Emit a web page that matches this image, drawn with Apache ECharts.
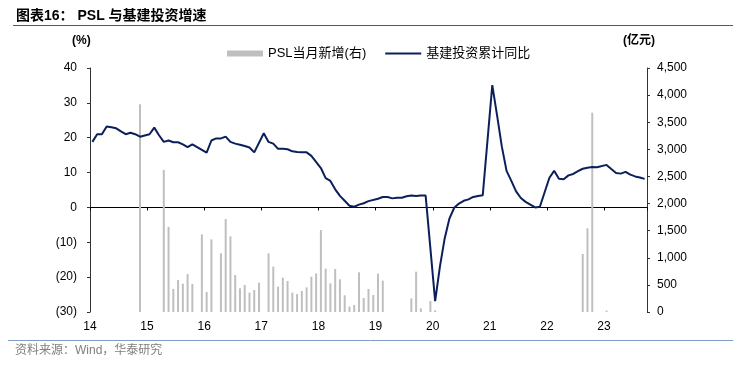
<!DOCTYPE html>
<html>
<head>
<meta charset="utf-8">
<script src="https://cdn.jsdelivr.net/npm/echarts/dist/echarts.min.js"></script>
<style>
html,body{margin:0;padding:0;background:#fff;}
#chart{width:739px;height:369px;}
</style>
</head>
<body>
<div id="chart"></div>
<script>
// ---- Data ----
// Monthly categories run from 2014-02 to 2023-10 (117 months)
const startYear = 2014;
const startMonth = 2;
const monthCount = 117;
const yearTickLabels = ['14','15','16','17','18','19','20','21','22','23'];

// 基建投资累计同比 (%), one value per month, null = month not published (January)
const infraYoY = [
  18.8, 21.0, 21.0, 23.2, 23.0, 22.7, 21.8, 21.0, 21.4, 21.0, 20.3,        // 2014-02..2014-12
  null, 21.0, 22.9, 20.7, 18.8, 19.2, 18.7, 18.7, 18.1, 17.3, 18.1, 17.3,  // 2015
  null, 15.7, 19.2, 19.8, 19.8, 20.3, 18.8, 18.3, 18.0, 17.6, 17.2, 15.8,  // 2016
  null, 21.3, 18.8, 18.3, 16.8, 16.8, 16.7, 16.1, 15.9, 15.8, 15.8, 14.8,  // 2017
  null, 11.3, 8.4, 7.6, 5.2, 3.3, 1.9, 0.5, 0.2, 0.8, 1.2, 1.8,            // 2018
  null, 2.5, 3.0, 3.0, 2.6, 2.8, 2.8, 3.2, 3.4, 3.3, 3.4, 3.4,             // 2019
  null, -26.9, -17.0, -8.9, -3.2, -0.1, 1.1, 1.9, 2.3, 3.0, 3.3, 3.5,     // 2020
  null, 35.1, 26.5, 17.5, 10.5, 7.6, 4.6, 2.7, 1.6, 0.8, 0.0, 0.2,        // 2021
  null, 8.5, 10.5, 8.2, 8.1, 9.2, 9.6, 10.4, 11.1, 11.4, 11.6, 11.5,      // 2022
  null, 12.2, 11.0, 9.9, 9.7, 10.2, 9.4, 8.9, 8.6, 8.2                    // 2023
];

// PSL当月新增 (亿元), months with a bar
const pslDates = [
  '2014-12',
  '2015-05','2015-06','2015-07','2015-08','2015-09','2015-10','2015-11',
  '2016-01','2016-02','2016-03','2016-05','2016-06','2016-07','2016-08','2016-09','2016-10','2016-11','2016-12',
  '2017-01','2017-03','2017-04','2017-05','2017-06','2017-07','2017-08','2017-09','2017-10','2017-11','2017-12',
  '2018-01','2018-02','2018-03','2018-04','2018-05','2018-06','2018-07','2018-08','2018-09','2018-10','2018-11','2018-12',
  '2019-01','2019-02','2019-03','2019-09','2019-10','2019-11',
  '2020-01','2020-02',
  '2022-09','2022-10','2022-11',
  '2023-02'
];
const pslValues = [
  3831,
  2620, 1570, 424, 590, 522, 700, 516,
  1432, 369, 1340, 1082, 1715, 1395, 682, 437, 498, 356, 406,
  541, 1082, 836, 467, 633, 572, 356, 332, 387, 455, 651,
  713, 1512, 799, 529, 793, 603, 308, 98, 129, 732, 258, 424,
  313, 707, 578, 252, 744, 68,
  203, 30,
  1070, 1543, 3676,
  25
];

// ---- Build categories / series arrays ----
const categories = [];
for (let k = 0; k < monthCount; k++) {
  const m0 = startMonth - 1 + k;
  const y = startYear + Math.floor(m0 / 12);
  const m = (m0 % 12) + 1;
  categories.push(y + '-' + String(m).padStart(2, '0'));
}
const pslSeries = categories.map(c => {
  const j = pslDates.indexOf(c);
  return j >= 0 ? pslValues[j] : null;
});

const LATIN = '"Liberation Sans", Arial, "Noto Sans CJK SC", sans-serif';
const chart = echarts.init(document.getElementById('chart'), null, {renderer: 'canvas'});

const option = {
  animation: false,
  backgroundColor: '#ffffff',
  textStyle: {fontFamily: LATIN},
  grid: {left: 90, right: 92, top: 68, bottom: 57, containLabel: false},
  legend: {
    left: 222,
    top: 42,
    itemWidth: 36,
    itemHeight: 6,
    itemGap: 19,
    textStyle: {fontFamily: LATIN, fontSize: 13, color: '#000'},
    data: [
      {name: 'PSL当月新增(右)', icon: 'rect'},
      {name: '基建投资累计同比', icon: 'path://M0,0H36V2H0Z', itemStyle: {color: '#0C1F5B'}}
    ]
  },
  xAxis: [
    {
      type: 'category',
      data: categories,
      boundaryGap: true,
      position: 'bottom',
      axisLine: {show: false, onZero: false},
      axisTick: {show: false},
      splitLine: {show: false},
      axisLabel: {
        interval: (i) => i % 12 === 0,
        formatter: (v, i) => yearTickLabels[Math.floor(i / 12)],
        fontSize: 12,
        color: '#000',
        margin: 9,
        padding: [0, 5, 0, 0]
      }
    },
    {
      type: 'category',
      data: categories,
      boundaryGap: true,
      position: 'bottom',
      axisLine: {show: true, onZero: true, onZeroAxisIndex: 0, lineStyle: {color: '#000', width: 1}},
      axisTick: {show: true, interval: (i) => i % 12 === 0, length: 3, lineStyle: {color: '#000'}},
      axisLabel: {show: false},
      splitLine: {show: false}
    }
  ],
  yAxis: [
    {
      type: 'value',
      position: 'left',
      min: -30, max: 40, interval: 10,
      splitLine: {show: false},
      axisLine: {show: true, lineStyle: {color: '#333', width: 1}},
      axisTick: {show: true, length: 3, lineStyle: {color: '#333'}},
      axisLabel: {
        fontSize: 12, color: '#000', margin: 13,
        formatter: v => v < 0 ? '(' + (-v) + ')' : String(v)
      }
    },
    {
      type: 'value',
      position: 'right',
      min: 0, max: 4500, interval: 500,
      splitLine: {show: false},
      axisLine: {show: true, lineStyle: {color: '#333', width: 1}},
      axisTick: {show: true, length: 3, lineStyle: {color: '#333'}},
      axisLabel: {
        fontSize: 12, color: '#000', margin: 10,
        formatter: v => v.toLocaleString('en-US')
      }
    }
  ],
  series: [
    {
      name: 'PSL当月新增(右)',
      type: 'bar',
      xAxisIndex: 0,
      yAxisIndex: 1,
      data: pslSeries,
      barWidth: 2,
      itemStyle: {color: '#BFBFBF'},
      z: 1
    },
    {
      name: '基建投资累计同比',
      type: 'line',
      xAxisIndex: 0,
      yAxisIndex: 0,
      data: infraYoY,
      connectNulls: true,
      symbol: 'none',
      showSymbol: false,
      lineStyle: {color: '#0C1F5B', width: 2},
      itemStyle: {color: '#0C1F5B'},
      z: 5
    }
  ],
  graphic: [
    {type: 'text', left: 16, top: 9,
     style: {text: '图表16： PSL 与基建投资增速', font: 'bold 14px ' + LATIN, fill: '#000'}},
    {type: 'line', shape: {x1: 13, y1: 25.5, x2: 733, y2: 25.5},
     style: {stroke: '#3E5C8A', lineWidth: 1}},
    {type: 'text', left: 72, top: 35,
     style: {text: '(%)', font: 'bold 12px ' + LATIN, fill: '#000'}},
    {type: 'text', left: 623, top: 35,
     style: {text: '(亿元)', font: 'bold 12px ' + LATIN, fill: '#000'}},
    {type: 'line', shape: {x1: 8, y1: 340.5, x2: 733, y2: 340.5},
     style: {stroke: '#7F9CC7', lineWidth: 1}},
    {type: 'text', left: 15, top: 345,
     style: {text: '资料来源：Wind，华泰研究', font: '12px ' + LATIN, fill: '#7F7F7F'}}
  ]
};
chart.setOption(option);
</script>
</body>
</html>
